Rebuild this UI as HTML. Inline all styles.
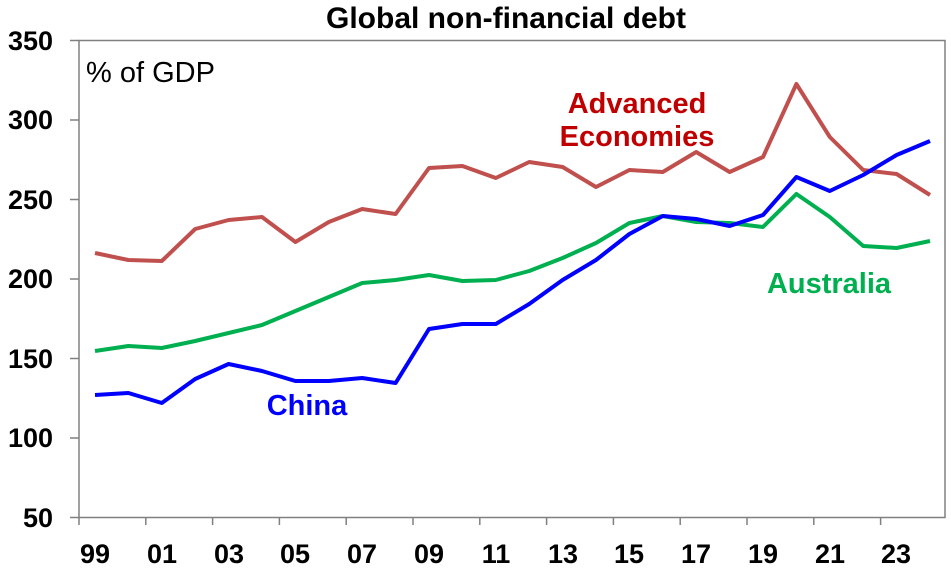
<!DOCTYPE html>
<html><head><meta charset="utf-8"><style>
body{margin:0;background:#fff}
svg text{font-family:"Liberation Sans",Arial,sans-serif;font-weight:bold}
</style></head><body>
<svg width="951" height="569" viewBox="0 0 951 569" xmlns="http://www.w3.org/2000/svg">
<rect x="79" y="40.5" width="866" height="477" fill="none" stroke="#808080" stroke-width="1.5"/>
<g stroke="#808080" stroke-width="1.5">
<line x1="70" y1="40.5" x2="79" y2="40.5"/><line x1="70" y1="120" x2="79" y2="120"/><line x1="70" y1="199.5" x2="79" y2="199.5"/><line x1="70" y1="279" x2="79" y2="279"/><line x1="70" y1="358.5" x2="79" y2="358.5"/><line x1="70" y1="438" x2="79" y2="438"/><line x1="70" y1="517.5" x2="79" y2="517.5"/>
<line x1="79" y1="517" x2="79" y2="525"/><line x1="145.8" y1="517" x2="145.8" y2="525"/><line x1="212.6" y1="517" x2="212.6" y2="525"/><line x1="279.4" y1="517" x2="279.4" y2="525"/><line x1="346.2" y1="517" x2="346.2" y2="525"/><line x1="413" y1="517" x2="413" y2="525"/><line x1="479.8" y1="517" x2="479.8" y2="525"/><line x1="546.6" y1="517" x2="546.6" y2="525"/><line x1="613.4" y1="517" x2="613.4" y2="525"/><line x1="680.2" y1="517" x2="680.2" y2="525"/><line x1="747" y1="517" x2="747" y2="525"/><line x1="813.8" y1="517" x2="813.8" y2="525"/><line x1="880.6" y1="517" x2="880.6" y2="525"/>
</g>
<g font-size="27" text-anchor="end">
<text x="53" y="50">350</text><text x="53" y="129">300</text><text x="53" y="209">250</text><text x="53" y="288">200</text><text x="53" y="368">150</text><text x="53" y="447">100</text><text x="53" y="527">50</text>
</g>
<g font-size="27" text-anchor="middle">
<text x="95" y="563">99</text><text x="162" y="563">01</text><text x="229" y="563">03</text><text x="295" y="563">05</text><text x="362" y="563">07</text><text x="429" y="563">09</text><text x="496" y="563">11</text><text x="563" y="563">13</text><text x="629" y="563">15</text><text x="696" y="563">17</text><text x="763" y="563">19</text><text x="830" y="563">21</text><text x="896" y="563">23</text>
</g>
<text x="506" y="28" font-size="30" text-anchor="middle">Global non-financial debt</text>
<text x="86" y="82" font-size="29" style="font-weight:normal">% of GDP</text>
<g fill="none" stroke-width="4" stroke-linejoin="round">
<polyline stroke="#c0504d" points="95,253 128.4,260 161.8,261 195.2,229 228.6,220 262,217 295.4,242 328.8,222 362.2,209 395.6,214 429,168 462.4,166 495.8,178 529.2,162 562.6,167 596,187 629.4,170 662.8,172 696.2,152 729.6,172 763,157 796.4,84 829.8,137 863.2,170 896.6,174 930,195"/>
<polyline stroke="#00b050" points="95,351 128.4,346 161.8,348 195.2,341 228.6,333 262,325 295.4,311 328.8,297 362.2,283 395.6,280 429,275 462.4,281 495.8,280 529.2,271 562.6,258 596,243 629.4,223 662.8,216 696.2,222 729.6,223 763,227 796.4,194 829.8,217 863.2,246 896.6,248 930,241"/>
<polyline stroke="#0000ff" points="95,395 128.4,393 161.8,403 195.2,379 228.6,364 262,371 295.4,381 328.8,381 362.2,378 395.6,383 429,329 462.4,324 495.8,324 529.2,304 562.6,280 596,260 629.4,234 662.8,216 696.2,219 729.6,226 763,215 796.4,177 829.8,191 863.2,175 896.6,155 930,141"/>
</g>
<g font-size="29">
<text x="637" y="113" fill="#c00000" text-anchor="middle">Advanced</text>
<text x="637" y="146" fill="#c00000" text-anchor="middle">Economies</text>
<text x="307" y="415" fill="#0000ff" text-anchor="middle">China</text>
<text x="829" y="293" fill="#00b050" text-anchor="middle">Australia</text>
</g>
</svg>
</body></html>
